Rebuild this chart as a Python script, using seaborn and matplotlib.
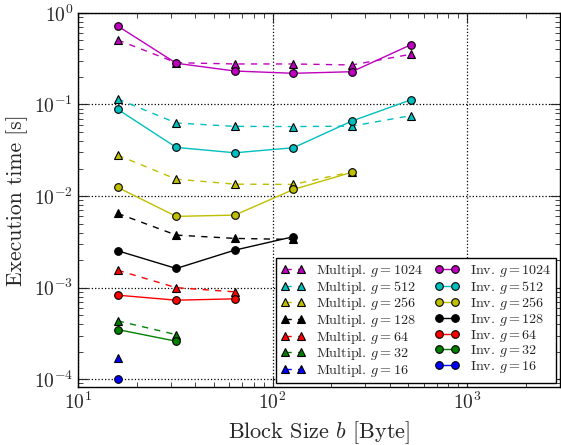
import numpy as np
import pandas as pd
import matplotlib
matplotlib.use("Agg")
import matplotlib.pyplot as plt
import seaborn as sns

block_sizes = [16, 32, 64, 128, 256, 512]
groups = [1024, 512, 256, 128, 64, 32, 16]
colors = ['#bf00bf', '#00bfbf', '#bfbf00', '#000000', '#ff0000', '#008000', '#0000ff']

mult_1024 = [0.507, 0.286, 0.277, 0.277, 0.270, 0.353]
mult_512 = [0.115, 0.0628, 0.0577, 0.0574, 0.058, 0.0755]
mult_256 = [0.028, 0.0153, 0.0135, 0.0134, 0.0184]
mult_128 = [0.00647, 0.00375, 0.00345, 0.00336]
mult_64 = [0.00155, 0.00100, 0.00090]
mult_32 = [0.000434, 0.000307]
mult_16 = [0.000171]

inv_1024 = [0.72, 0.282, 0.232, 0.219, 0.228, 0.447]
inv_512 = [0.0886, 0.034, 0.0297, 0.0337, 0.066, 0.112]
inv_256 = [0.01245, 0.0060, 0.0062, 0.0118, 0.0182]
inv_128 = [0.00253, 0.00162, 0.00257, 0.0036]
inv_64 = [0.000828, 0.00073, 0.000755]
inv_32 = [0.000349, 0.00026]
inv_16 = [0.0001]

mult = [mult_1024, mult_512, mult_256, mult_128, mult_64, mult_32, mult_16]
inv = [inv_1024, inv_512, inv_256, inv_128, inv_64, inv_32, inv_16]

sns.set_style("ticks")
plt.rcParams['font.family'] = 'serif'
plt.rcParams['font.serif'] = ['cmr10', 'DejaVu Serif']
plt.rcParams['mathtext.fontset'] = 'cm'
plt.rcParams['axes.formatter.use_mathtext'] = True

fig, ax = plt.subplots(figsize=(5.61, 4.45), dpi=100)

handles_m, handles_i = [], []
for g, c, ys in zip(groups, colors, mult):
    df = pd.DataFrame({'b': block_sizes[:len(ys)], 't': ys})
    sns.lineplot(data=df, x='b', y='t', ax=ax, color=c, linestyle='--', marker='^',
                 markersize=5.5, markeredgecolor='black', markeredgewidth=0.8,
                 linewidth=1, dashes=False, legend=False)
    ln = ax.lines[-1]
    ln.set_dashes((4.5, 4.5))
    handles_m.append((ln, f'Multipl. $g = {g}$'))
for g, c, ys in zip(groups, colors, inv):
    df = pd.DataFrame({'b': block_sizes[:len(ys)], 't': ys})
    sns.lineplot(data=df, x='b', y='t', ax=ax, color=c, linestyle='-', marker='o',
                 markersize=5.5, markeredgecolor='black', markeredgewidth=0.8,
                 linewidth=1, legend=False)
    handles_i.append((ax.lines[-1], f'Inv. $g = {g}$'))

ax.set_xscale('log')
ax.set_yscale('log')
ax.set_xlim(10, 3000)
ax.set_ylim(8.2e-5, 1)
ax.grid(True, which='major', color='black', linestyle=':', linewidth=0.9)
ax.tick_params(which='both', direction='in', top=True, right=True, labelsize=14)
ax.tick_params(which='major', length=7, width=0.8)
ax.tick_params(which='minor', length=3.5, width=0.6)
for s in ax.spines.values():
    s.set_linewidth(1.0)
    s.set_color('black')

ax.set_xlabel('Block Size $b$ [Byte]', fontsize=16)
ax.set_ylabel('Execution time [s]', fontsize=15.5)

hs = [h for h, _ in handles_m] + [h for h, _ in handles_i]
ls = [l for _, l in handles_m] + [l for _, l in handles_i]
leg = ax.legend(hs, ls, ncol=2, loc='lower right', numpoints=2, fontsize=10.2,
                fancybox=False, framealpha=1, edgecolor='black', handlelength=1.75,
                borderaxespad=0.3, labelspacing=-0.03, columnspacing=0.8, handletextpad=0.75,
                borderpad=0.3)
leg.get_frame().set_linewidth(1.0)

fig.subplots_adjust(left=0.139, right=0.998, top=0.971, bottom=0.13)
fig.savefig('out.png', dpi=100)
